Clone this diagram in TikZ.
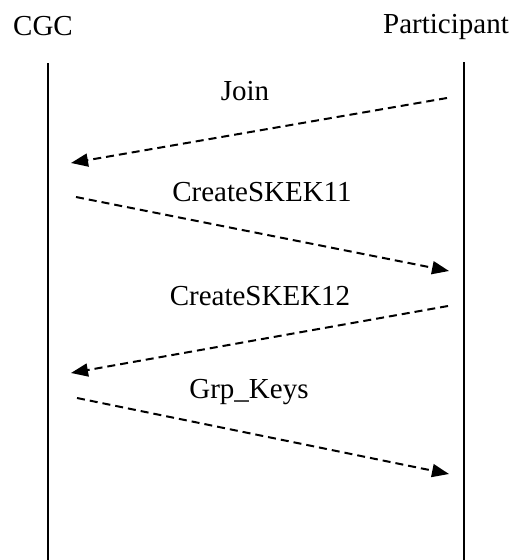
\documentclass[tikz,border=0pt]{standalone}
\usepackage{fontspec}
\setmainfont{Liberation Serif}
\usetikzlibrary{arrows.meta}
\begin{document}
\begin{tikzpicture}[x=1pt,y=-1pt,
  lifeline/.style={line width=1.8pt},
  msg/.style={line width=2pt, dash pattern=on 8pt off 5pt,
    -{Triangle[length=17pt,width=13pt]}},
  lbl/.style={font=\fontsize{29}{32}\selectfont, anchor=base, inner sep=0pt}]
  \useasboundingbox (0,0) rectangle (517,560);

  % participants
  \node[lbl] (cgc) at (43,35) {CGC};
  \node[lbl] (part) at (446,33) {Participant};

  % lifelines
  \coordinate (cgcTop) at (48,63);
  \coordinate (cgcBot) at (48,560);
  \coordinate (partTop) at (464,62);
  \coordinate (partBot) at (464,560);
  \draw[lifeline] (cgcTop) -- (cgcBot);
  \draw[lifeline] (partTop) -- (partBot);

  % message end points
  \coordinate (p1) at (447,98);  \coordinate (c1) at (71,163);
  \coordinate (c2) at (76,197);  \coordinate (p2) at (449,271);
  \coordinate (p3) at (448,306); \coordinate (c3) at (71,373);
  \coordinate (c4) at (77,398);  \coordinate (p4) at (449,474);

  % messages
  \draw[msg] (p1) -- (c1);
  \node[lbl] (mJoin) at (245,100) {Join};
  \draw[msg] (c2) -- (p2);
  \node[lbl] (mS11) at (262,201) {CreateSKEK11};
  \draw[msg] (p3) -- (c3);
  \node[lbl] (mS12) at (260,305) {CreateSKEK12};
  \draw[msg] (c4) -- (p4);
  \node[lbl] (mGrp) at (249,398) {Grp\_Keys};
\end{tikzpicture}
\end{document}
